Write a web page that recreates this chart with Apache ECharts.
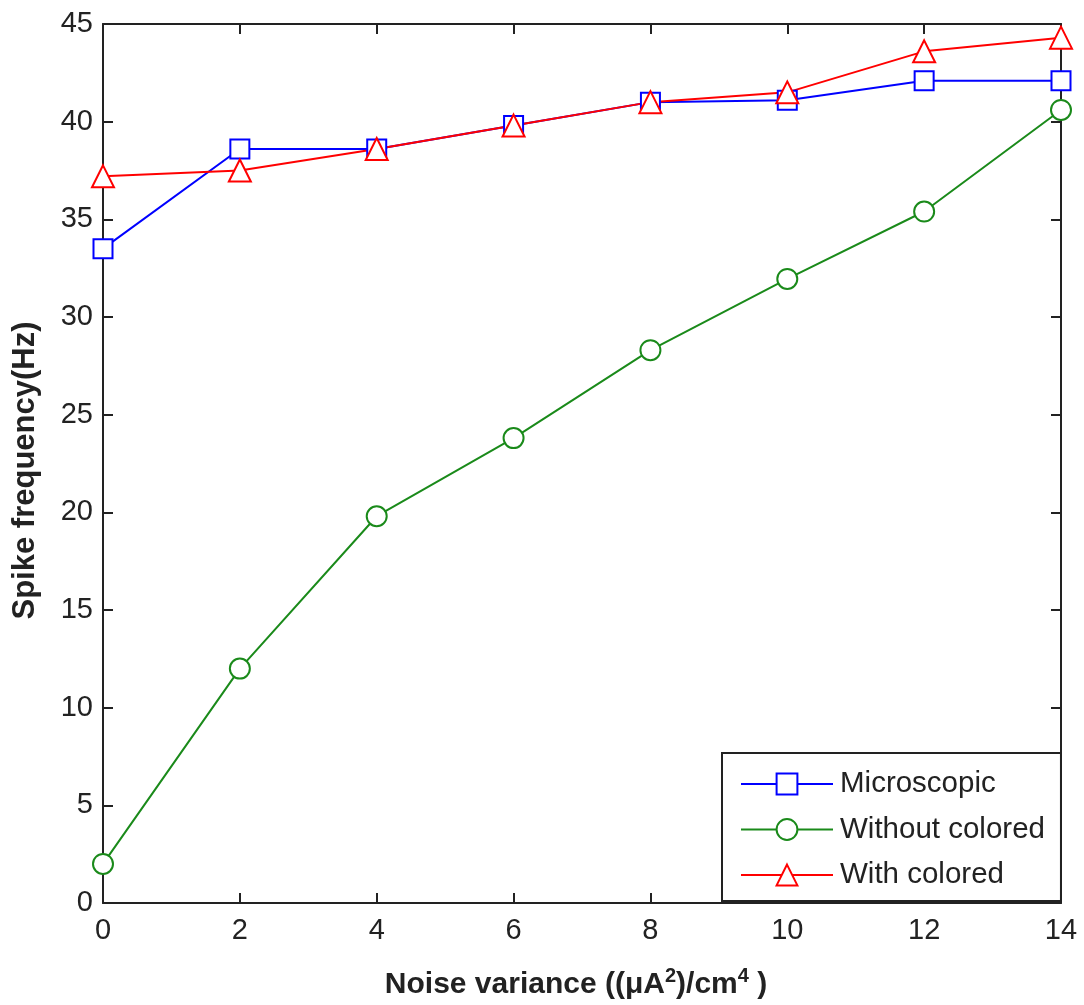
<!DOCTYPE html>
<html><head><meta charset="utf-8">
<script src="https://cdn.jsdelivr.net/npm/echarts@6/dist/echarts.min.js"></script>
<style>html,body{margin:0;padding:0;background:#fff}#c{width:1084px;height:1005px}</style>
</head><body><div id="c"></div>
<script>
var xValues = [0, 2, 4, 6, 8, 10, 12, 14];
var microscopic = [33.5, 38.6, 38.6, 39.8, 41.0, 41.1, 42.1, 42.1];
var withoutColored = [2.0, 12.0, 19.8, 23.8, 28.3, 31.95, 35.4, 40.6];
var withColored = [37.2, 37.5, 38.6, 39.8, 41.0, 41.5, 43.6, 44.3];
var xTicks = [0, 2, 4, 6, 8, 10, 12, 14];
var yTicks = [0, 5, 10, 15, 20, 25, 30, 35, 40, 45];

function pairs(ys){ return xValues.map(function(x,i){ return [x, ys[i]]; }); }
var font = '"Liberation Sans", Arial, sans-serif';
var axisCommon = {
  axisLine:{show:true, onZero:false, lineStyle:{color:'#222', width:2}},
  axisTick:{show:true, inside:true, length:10, lineStyle:{color:'#222', width:2}},
  splitLine:{show:false}
};
var chart = echarts.init(document.getElementById('c'));
chart.setOption({
  animation:false,
  backgroundColor:'#fff',
  grid:{left:103, right:23, top:24, bottom:102, containLabel:false, outerBoundsMode:'none'},
  xAxis:[
    Object.assign({type:'value', min:0, max:14, interval:2, position:'bottom',
      name:'{b|Noise variance ((μA}{s|2}{b|)/cm}{s|4}{b| )}', nameLocation:'middle', nameGap:63,
      nameTextStyle:{padding:[0,12,0,0], rich:{b:{fontFamily:font, fontWeight:'bold', fontSize:30, color:'#222', verticalAlign:'bottom'},
                           s:{fontFamily:font, fontWeight:'bold', fontSize:20, color:'#222', verticalAlign:'top', padding:[0,0,14,0]}}},
      axisLabel:{fontFamily:font, fontSize:29, color:'#222', margin:13,
        formatter:function(v){ return xTicks.indexOf(v) >= 0 ? String(v) : ''; }}}, axisCommon),
    Object.assign({type:'value', min:0, max:14, interval:2, position:'top', axisLabel:{show:false}}, axisCommon)
  ],
  yAxis:[
    Object.assign({type:'value', min:0, max:45, interval:5, position:'left',
      name:'Spike frequency(Hz)', nameLocation:'middle', nameGap:62, nameRotate:90,
      nameTextStyle:{fontFamily:font, fontWeight:'bold', fontSize:31, color:'#222', padding:[0,14,0,0]},
      axisLabel:{fontFamily:font, fontSize:29, color:'#222', margin:10,
        formatter:function(v){ return yTicks.indexOf(v) >= 0 ? String(v) : ''; }}}, axisCommon),
    Object.assign({type:'value', min:0, max:45, interval:5, position:'right', axisLabel:{show:false}}, axisCommon)
  ],
  legend:{
    orient:'vertical', left:722, top:753,
    backgroundColor:'#fff', borderColor:'#222', borderWidth:2,
    padding:[16, 16, 11, 18],
    itemWidth:92, itemHeight:26, itemGap:15.5,
    textStyle:{fontFamily:font, fontSize:29.5, color:'#222', padding:[0,0,0,2]},
    data:['Microscopic','Without colored','With colored']
  },
  series:[
    {name:'Microscopic', type:'line', data:pairs(microscopic), symbol:'emptyRect', symbolSize:19,
     color:'#0000ff', lineStyle:{width:2, color:'#0000ff'}, itemStyle:{color:'#0000ff', borderWidth:2}},
    {name:'Without colored', type:'line', data:pairs(withoutColored), symbol:'emptyCircle', symbolSize:20,
     color:'#1a8a1a', lineStyle:{width:2, color:'#1a8a1a'}, itemStyle:{color:'#1a8a1a', borderWidth:2}},
    {name:'With colored', type:'line', data:pairs(withColored), symbol:'emptyTriangle', symbolSize:22,
     color:'#ff0000', lineStyle:{width:2, color:'#ff0000'}, itemStyle:{color:'#ff0000', borderWidth:2}}
  ]
});
</script></body></html>
